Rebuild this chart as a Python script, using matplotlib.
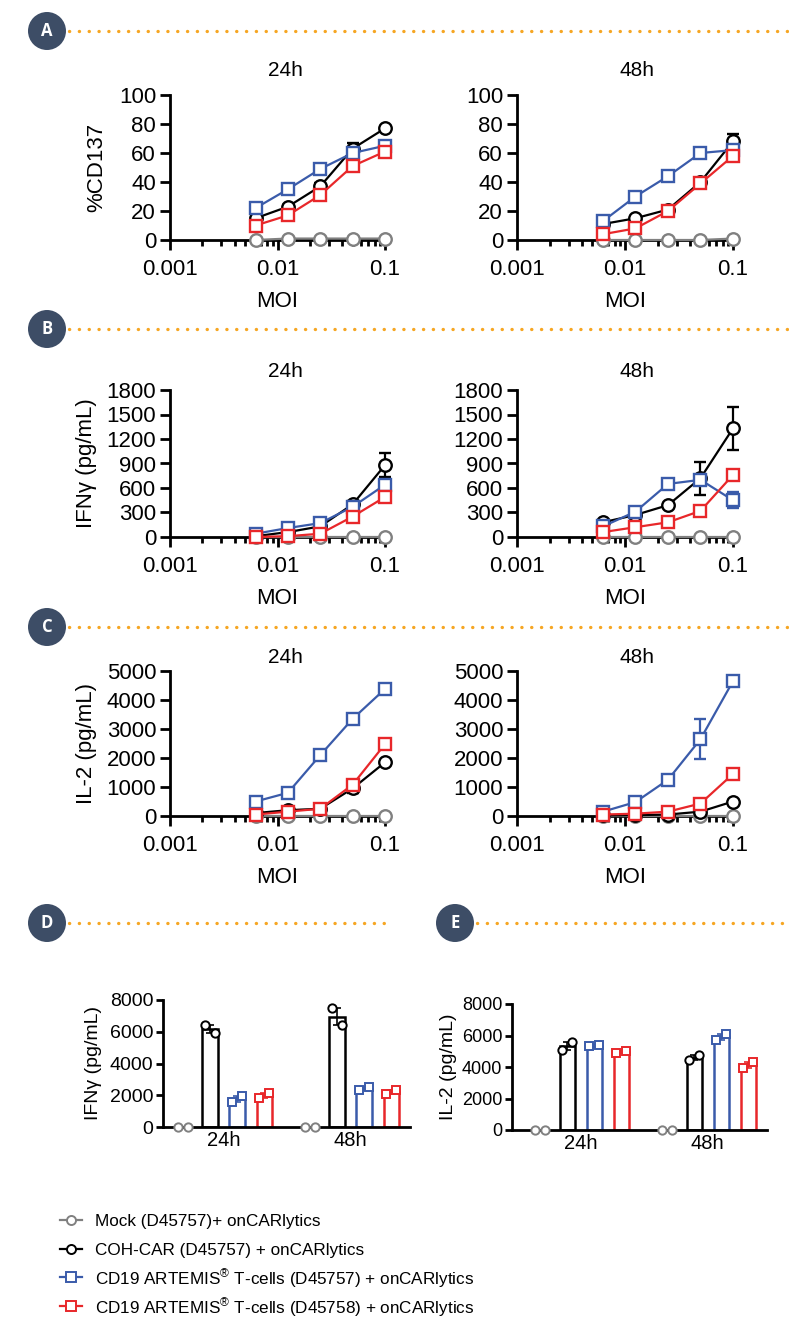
import numpy as np
import matplotlib
matplotlib.use("Agg")
import matplotlib.pyplot as plt
from matplotlib.lines import Line2D
from matplotlib.patches import Ellipse
from matplotlib.ticker import LogLocator, NullFormatter, FixedLocator

plt.rcParams['font.family'] = ['Liberation Sans', 'DejaVu Sans']
plt.rcParams['mathtext.fontset'] = 'custom'
plt.rcParams['mathtext.rm'] = 'Liberation Sans'

# ---------------- data ----------------
moi = [0.00625, 0.0125, 0.025, 0.05, 0.1]

series_names = ["Mock (D45757)+ onCARlytics",
                "COH-CAR (D45757) + onCARlytics",
                "CD19 ARTEMIS$^{®}$ T-cells (D45757) + onCARlytics",
                "CD19 ARTEMIS$^{®}$ T-cells (D45758) + onCARlytics"]
series_colors = ['#808080', '#000000', '#3A5BAA', '#E8272A']
series_markers = ['o', 'o', 's', 's']

# rows: mock, COH-CAR, ARTEMIS D45757, ARTEMIS D45758
cd137_24h = [[0, 1, 1, 1, 1], [15, 23, 37, 63, 77], [22, 35, 49, 60, 65], [10, 17, 31, 51, 61]]
cd137_24h_err = [[0, 0, 0, 0, 0], [1, 1, 2, 4, 1], [1, 1, 1, 2, 1], [1, 1, 1, 1, 1]]
cd137_48h = [[0, 0, 0, 0, 1], [11, 15, 21, 40, 68], [13, 30, 44, 60, 62], [4, 8, 20, 39, 58]]
cd137_48h_err = [[0, 0, 0, 0, 0], [1, 1, 1, 1, 5], [1, 3, 1, 1, 1], [1, 1, 1, 1, 1]]

ifng_24h = [[0, 0, 0, 0, 0], [10, 60, 130, 400, 880], [40, 110, 170, 370, 640], [0, 10, 40, 250, 490]]
ifng_24h_err = [[0, 0, 0, 0, 0], [5, 10, 20, 40, 150], [5, 10, 20, 30, 60], [5, 5, 10, 20, 30]]
ifng_48h = [[0, 0, 0, 0, 0], [180, 270, 390, 720, 1330], [130, 310, 650, 700, 450], [60, 120, 180, 320, 760]]
ifng_48h_err = [[0, 0, 0, 0, 0], [10, 20, 20, 200, 260], [10, 40, 20, 40, 100], [10, 10, 20, 20, 30]]

il2_24h = [[0, 0, 0, 0, 0], [100, 200, 250, 950, 1850], [500, 800, 2100, 3350, 4380], [50, 150, 250, 1080, 2480]]
il2_24h_err = [[0, 0, 0, 0, 0], [20, 30, 30, 150, 60], [30, 40, 50, 80, 80], [20, 30, 30, 80, 120]]
il2_48h = [[0, 0, 0, 0, 0], [20, 30, 50, 150, 500], [150, 480, 1250, 2650, 4650], [50, 80, 150, 430, 1450]]
il2_48h_err = [[0, 0, 0, 0, 0], [10, 10, 10, 20, 30], [30, 40, 60, 700, 100], [10, 10, 20, 30, 60]]

# replicate values for bar panels: [timepoint][series][replicate]
bar_times = ["24h", "48h"]
ifng_bar = [[[0, 0], [6400, 5900], [1600, 1950], [1800, 2150]],
            [[0, 0], [7500, 6400], [2300, 2520], [2100, 2320]]]
il2_bar = [[[0, 0], [5080, 5560], [5330, 5400], [4870, 5040]],
           [[0, 0], [4420, 4760], [5710, 6090], [3920, 4300]]]

# ---------------- layout helpers ----------------
W, H = 789, 1320
fig = plt.figure(figsize=(W / 100, H / 100), dpi=100)


def box(x0, y0, x1, y1):
    return [x0 / W, 1 - y1 / H, (x1 - x0) / W, (y1 - y0) / H]


def header(letter, cx, cy, x_end):
    fig.add_artist(Line2D([(cx + 22) / W, x_end / W], [1 - cy / H, 1 - cy / H],
                          transform=fig.transFigure, color='#F6A623', lw=2.4,
                          linestyle=(0, (0.05, 2.9)), dash_capstyle='round'))
    fig.add_artist(Ellipse((cx / W, 1 - cy / H), 38 / W, 38 / H, transform=fig.transFigure,
                           facecolor='#3D4D66', edgecolor='none'))
    fig.text(cx / W, 1 - cy / H, letter, color='white', fontsize=12, fontweight='bold',
             family=['Open Sans', 'DejaVu Sans'], ha='center', va='center')


def style_axes(ax, size=16, tick_len=7):
    for s in ['top', 'right']:
        ax.spines[s].set_visible(False)
    for s in ['left', 'bottom']:
        ax.spines[s].set_linewidth(2.0)
    ax.tick_params(axis='both', which='major', width=2.0, length=tick_len, labelsize=size, pad=3)
    ax.tick_params(axis='x', which='major', pad=7)
    ax.tick_params(axis='x', which='minor', width=2.0, length=4.5)


def line_panel(rect, data, err, ymax, ystep, title, title_xy, ylabel=None, ylab_x=None):
    ax = fig.add_axes(box(*rect))
    for vals, e, c, m in zip(data, err, series_colors, series_markers):
        ax.errorbar(moi, vals, yerr=e, color=c, marker=m, ms=8.5 if m == 's' else 9,
                    mfc='white', mec=c, mew=1.7, lw=1.6, capsize=4.5, elinewidth=1.6,
                    capthick=1.6, clip_on=False, zorder=3)
    ax.set_xscale('log')
    ax.set_xlim(0.001, 0.1)
    ax.set_ylim(0, ymax)
    ax.xaxis.set_major_locator(FixedLocator([0.001, 0.01, 0.1]))
    ax.set_xticklabels(['0.001', '0.01', '0.1'])
    ax.xaxis.set_minor_locator(LogLocator(base=10, subs=np.arange(2, 10)))
    ax.xaxis.set_minor_formatter(NullFormatter())
    ax.set_yticks(np.arange(0, ymax + 1, ystep))
    style_axes(ax)
    ax.set_xlabel('MOI', fontsize=16)
    ax.xaxis.set_label_coords(0.5, -0.35)
    if ylabel:
        ax.set_ylabel(ylabel, fontsize=16)
        ax.yaxis.set_label_coords((ylab_x - rect[0]) / (rect[2] - rect[0]), 0.5)
    fig.text(title_xy[0] / W, 1 - title_xy[1] / H, title, fontsize=15,
             ha='center', va='center')
    return ax


def bar_panel(rect, reps, ylabel, ylab_x, left, size):
    ax = fig.add_axes(box(*rect))
    x_off = 4.7
    for g, group in enumerate(reps):
        for i, (vals, c, m) in enumerate(zip(group, series_colors, series_markers)):
            xc = g * x_off + i
            mean = np.mean(vals)
            half = (max(vals) - min(vals)) / 2
            if mean > 0:
                ax.bar(xc, mean, width=0.56, facecolor='none', edgecolor=c, lw=1.8, zorder=2)
                ax.errorbar(xc, mean, yerr=half, color=c, capsize=3, elinewidth=1.2,
                            capthick=1.2, zorder=3)
            ax.plot([xc - 0.18, xc + 0.18], vals, linestyle='none', marker=m,
                    ms=6, mfc='white', mec=c, mew=1.4, clip_on=False, zorder=4)
    ax.set_xlim(left, 8.4)
    ax.set_ylim(0, 8000)
    ax.set_yticks(np.arange(0, 8001, 2000))
    ax.set_xticks([1.5, x_off + 1.5])
    ax.set_xticklabels(bar_times)
    style_axes(ax, size, tick_len=5)
    ax.tick_params(axis='y', pad=2)
    ax.tick_params(axis='x', length=0, pad=3, labelsize=14.5)
    ax.set_ylabel(ylabel, fontsize=14)
    ax.yaxis.set_label_coords((ylab_x - rect[0]) / (rect[2] - rect[0]), 0.5)
    return ax


# ---------------- headers ----------------
header('A', 47, 31, 789)
header('B', 47, 329, 789)
header('C', 47, 627, 789)
header('D', 47, 923, 392)
header('E', 455, 923, 789)

# ---------------- line panels ----------------
cols = [(170, 385), (517, 733)]
rows = [(95, 240), (390, 537), (671, 816)]
title_y = [70, 372, 657]
panels = [(cd137_24h, cd137_24h_err, cd137_48h, cd137_48h_err, 100, 20, '%CD137', 107),
          (ifng_24h, ifng_24h_err, ifng_48h, ifng_48h_err, 1800, 300, 'IFNγ (pg/mL)', 97),
          (il2_24h, il2_24h_err, il2_48h, il2_48h_err, 5000, 1000, 'IL-2 (pg/mL)', 97)]

for r, (d24, e24, d48, e48, ymax, ystep, ylab, ylx) in enumerate(panels):
    y0, y1 = rows[r]
    line_panel((cols[0][0], y0, cols[0][1], y1), d24, e24, ymax, ystep, '24h',
               (285, title_y[r]), ylab, ylx)
    line_panel((cols[1][0], y0, cols[1][1], y1), d48, e48, ymax, ystep, '48h',
               (637, title_y[r]))

# ---------------- bar panels ----------------
bar_panel((163, 1000, 410, 1127), ifng_bar, 'IFNγ (pg/mL)', 102, -0.74, 14)
bar_panel((512, 1004, 767, 1130), il2_bar, 'IL-2 (pg/mL)', 457, -1.04, 13)

# ---------------- legend (fixed row spacing) ----------------
legend_y = [1220, 1249, 1277, 1306]
for name, c, m, ly in zip(series_names, series_colors, series_markers, legend_y):
    yf = 1 - ly / H
    fig.add_artist(Line2D([60 / W, 82 / W], [yf, yf], transform=fig.transFigure,
                          color=c, lw=1.6))
    fig.add_artist(Line2D([71 / W], [yf], transform=fig.transFigure, color=c,
                          marker=m, ms=6.5, mfc='white', mec=c, mew=1.4))
    fig.text(95 / W, yf, name, fontsize=12.3, ha='left', va='center_baseline')

fig.savefig('out.png', dpi=100)
